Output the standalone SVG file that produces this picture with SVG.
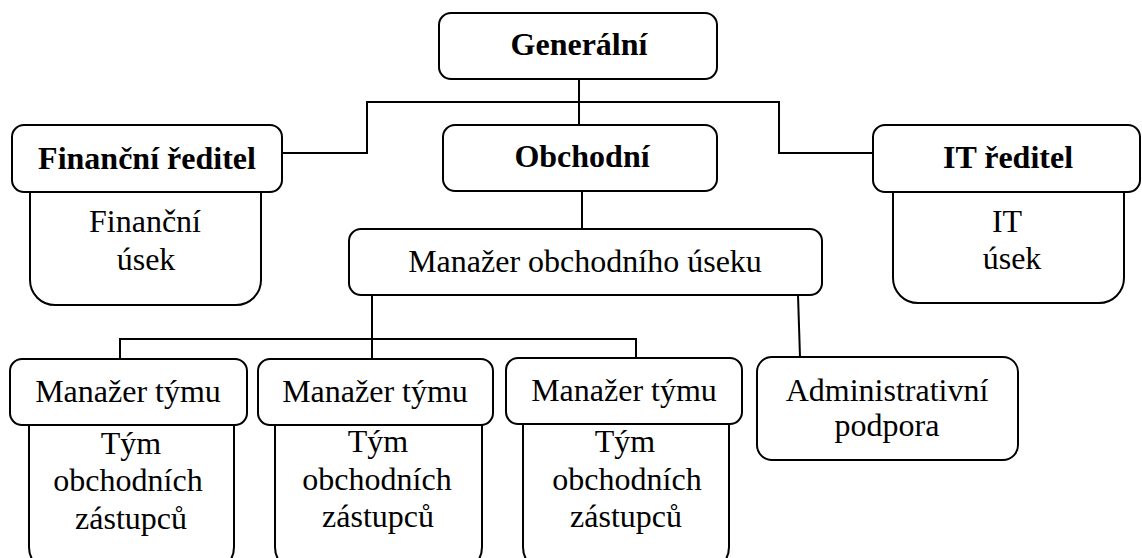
<svg xmlns="http://www.w3.org/2000/svg" width="1142" height="558" viewBox="0 0 1142 558" font-family="Liberation Serif">
<style>
.box{fill:#fff;stroke:#000;stroke-width:2}
.conn{fill:none;stroke:#000;stroke-width:2}
.t{font-family:Liberation Serif,serif;font-size:32px;fill:#000;text-anchor:middle}
.b{font-weight:bold}
</style>
<rect width="1142" height="558" fill="#fff"/>
<g id="connectors">
<path class="conn" d="M579,79 V125"/>
<path class="conn" d="M282,153 H367 V102 H779 V153 H873"/>
<path class="conn" d="M582,191 V229"/>
<path class="conn" d="M372,295 V359"/>
<path class="conn" d="M120,359 V339 H636 V358"/>
<path class="conn" d="M798,295 L800,357"/>
</g>
<g id="generalni">
<rect class="box" x="439" y="13" width="278" height="66" rx="12"/>
<text class="t b" font-family="Liberation Serif" x="579" y="55">Generální</text>
</g>
<g id="financni-usek">
<rect class="box" x="30" y="160" width="231" height="145" rx="25"/>
<text class="t" font-family="Liberation Serif" x="145" y="232">Finanční</text>
<text class="t" font-family="Liberation Serif" x="146" y="270">úsek</text>
</g>
<g id="financni-reditel">
<rect class="box" x="12" y="125" width="270" height="67" rx="12"/>
<text class="t b" font-family="Liberation Serif" x="147" y="169">Finanční ředitel</text>
</g>
<g id="obchodni">
<rect class="box" x="443" y="125" width="274" height="66" rx="12"/>
<text class="t b" font-family="Liberation Serif" x="582" y="167">Obchodní</text>
</g>
<g id="it-usek">
<rect class="box" x="893" y="160" width="231" height="143" rx="25"/>
<text class="t" font-family="Liberation Serif" x="1007" y="232">IT</text>
<text class="t" font-family="Liberation Serif" x="1012" y="269">úsek</text>
</g>
<g id="it-reditel">
<rect class="box" x="873" y="125" width="267" height="67" rx="12"/>
<text class="t b" font-family="Liberation Serif" x="1008" y="168">IT ředitel</text>
</g>
<g id="manazer-obchodniho-useku">
<rect class="box" x="349" y="229" width="473" height="66" rx="12"/>
<text class="t" font-family="Liberation Serif" x="585" y="272">Manažer obchodního úseku</text>
</g>
<g id="tym1">
<rect class="box" x="29" y="400" width="205" height="172" rx="25"/>
<text class="t" font-family="Liberation Serif" x="131" y="454">Tým</text>
<text class="t" font-family="Liberation Serif" x="128" y="491">obchodních</text>
<text class="t" font-family="Liberation Serif" x="131" y="529">zástupců</text>
</g>
<g id="manazer-tymu1">
<rect class="box" x="10" y="359" width="237" height="66" rx="12"/>
<text class="t" font-family="Liberation Serif" x="128" y="402">Manažer týmu</text>
</g>
<g id="tym2">
<rect class="box" x="275" y="400" width="207" height="172" rx="25"/>
<text class="t" font-family="Liberation Serif" x="378" y="452">Tým</text>
<text class="t" font-family="Liberation Serif" x="377" y="490">obchodních</text>
<text class="t" font-family="Liberation Serif" x="378" y="527">zástupců</text>
</g>
<g id="manazer-tymu2">
<rect class="box" x="258" y="359" width="235" height="66" rx="12"/>
<text class="t" font-family="Liberation Serif" x="375" y="402">Manažer týmu</text>
</g>
<g id="tym3">
<rect class="box" x="523" y="400" width="206" height="172" rx="25"/>
<text class="t" font-family="Liberation Serif" x="625" y="452">Tým</text>
<text class="t" font-family="Liberation Serif" x="627" y="490">obchodních</text>
<text class="t" font-family="Liberation Serif" x="626" y="527">zástupců</text>
</g>
<g id="manazer-tymu3">
<rect class="box" x="506" y="358" width="236" height="66" rx="12"/>
<text class="t" font-family="Liberation Serif" x="624" y="401">Manažer týmu</text>
</g>
<g id="administrativni-podpora">
<rect class="box" x="757" y="357" width="261" height="103" rx="15"/>
<text class="t" font-family="Liberation Serif" x="887" y="401">Administrativní</text>
<text class="t" font-family="Liberation Serif" x="887" y="436">podpora</text>
</g>
</svg>
